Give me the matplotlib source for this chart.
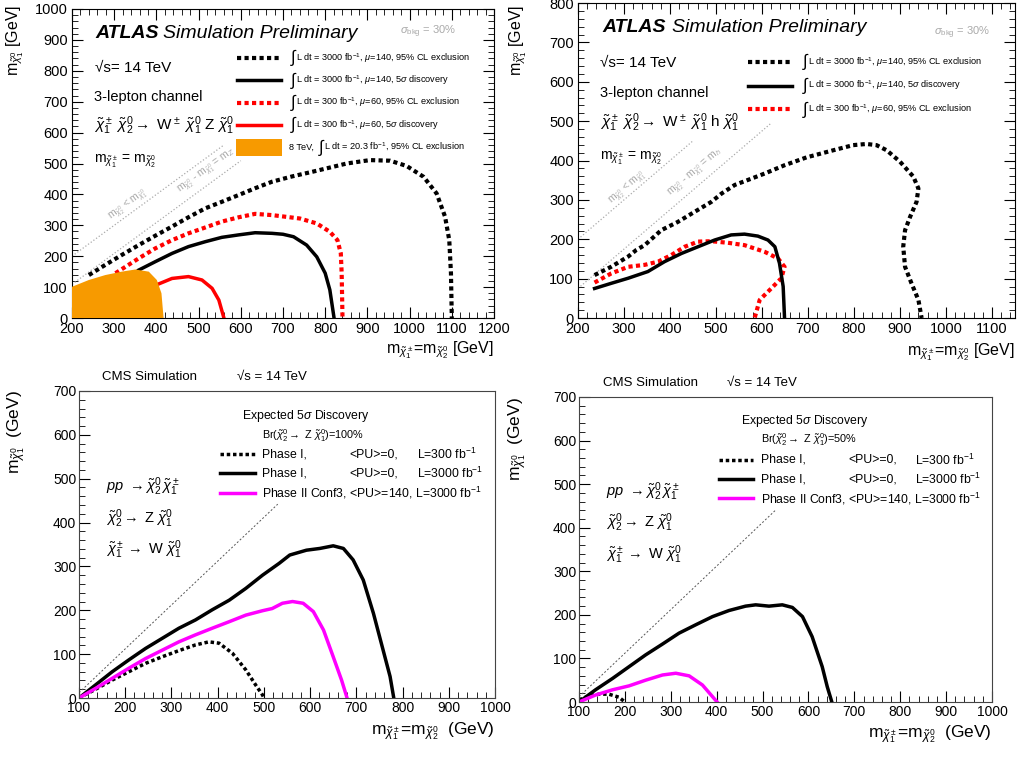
import numpy as np
import matplotlib
matplotlib.use('Agg')
import matplotlib.pyplot as plt
from matplotlib.lines import Line2D
from matplotlib.patches import Rectangle
from matplotlib.ticker import MultipleLocator

plt.rcParams['font.family'] = ['Liberation Sans', 'DejaVu Sans']
plt.rcParams['mathtext.fontset'] = 'custom'
plt.rcParams['mathtext.rm'] = 'Liberation Sans'
plt.rcParams['mathtext.it'] = 'Liberation Sans:italic'
plt.rcParams['mathtext.bf'] = 'Liberation Sans:bold'

# ---- ATLAS WZ (top left) ----
wz_excl3000_x = [240, 279, 318, 358, 397, 437, 476, 516, 555, 595, 634, 674, 721, 772, 851, 906, 954, 993,
                 1033, 1064, 1084, 1094, 1098, 1100]
wz_excl3000_y = [139, 172, 204, 236, 266, 296, 326, 355, 376, 398, 420, 441, 458, 474, 500, 511, 509, 492,
                 457, 403, 328, 252, 145, 0]
wz_disc3000_x = [358, 397, 437, 476, 516, 555, 595, 634, 674, 700, 725, 756, 780, 800, 811, 821]
wz_disc3000_y = [155, 182, 209, 231, 247, 261, 269, 276, 274, 271, 263, 236, 198, 145, 91, 0]
wz_excl300_x = [303, 358, 397, 437, 476, 516, 555, 595, 634, 674, 710, 740, 780, 811, 829, 837, 839, 841]
wz_excl300_y = [145, 193, 225, 252, 274, 293, 312, 326, 337, 333, 327, 322, 306, 279, 252, 209, 145, 0]
wz_disc300_x = [405, 437, 476, 508, 532, 548, 560]
wz_disc300_y = [110, 128, 134, 123, 96, 58, 0]
wz_8tev_x = [200, 200, 240, 279, 318, 350, 382, 401, 412, 417]
wz_8tev_y = [0, 101, 123, 139, 150, 157, 150, 123, 80, 0]

# ---- ATLAS Wh (top right) ----
wh_excl3000_x = [236, 272, 309, 327, 345, 381, 417, 454, 490, 512, 541, 577, 606, 649, 697, 755, 798, 827,
                 849, 871, 900, 929, 940, 936, 922, 911, 907, 911, 925, 940, 947]
wh_excl3000_y = [109, 130, 156, 173, 185, 223, 244, 270, 295, 316, 338, 354, 367, 388, 408, 426, 439, 442,
                 439, 426, 397, 359, 329, 295, 257, 223, 181, 130, 88, 46, 0]
wh_disc3000_x = [236, 272, 309, 352, 388, 425, 461, 497, 533, 562, 591, 613, 628, 638, 646, 649]
wh_disc3000_y = [75, 88, 101, 118, 143, 164, 181, 198, 211, 213, 208, 198, 181, 139, 80, 0]
wh_excl300_x = [236, 272, 309, 345, 374, 403, 432, 461, 490, 526, 562, 606, 635, 649, 642, 620, 595, 584]
wh_excl300_y = [90, 113, 130, 135, 143, 160, 181, 194, 195, 191, 185, 168, 151, 130, 101, 75, 46, 0]

# ---- CMS Br=100% (bottom left) ----
c100_p1_300_x = [100, 136, 172, 208, 244, 280, 316, 352, 381, 403, 432, 461, 482, 497, 500]
c100_p1_300_y = [0, 20, 41, 60, 79, 94, 108, 121, 128, 125, 102, 64, 30, 7, 0]
c100_p1_3000_x = [100, 136, 172, 208, 244, 280, 316, 352, 388, 425, 461, 497, 533, 556, 592, 621, 650, 672,
                  693, 715, 737, 758, 773, 781]
c100_p1_3000_y = [0, 30, 60, 87, 113, 136, 159, 178, 201, 223, 250, 280, 307, 326, 337, 341, 347, 341,
                  315, 269, 193, 109, 49, 0]
c100_p2_3000_x = [100, 136, 172, 208, 244, 280, 316, 352, 388, 425, 461, 497, 518, 540, 562, 585, 607, 629,
                  650, 668, 680]
c100_p2_3000_y = [0, 22, 45, 68, 90, 109, 128, 144, 159, 174, 189, 199, 204, 216, 220, 216, 197, 155,
                  94, 41, 0]

# ---- CMS Br=50% (bottom right) ----
c50_p1_300_x = [100, 122, 144, 165, 187, 200]
c50_p1_300_y = [5, 14, 18, 18, 11, 0]
c50_p1_3000_x = [100, 136, 173, 209, 245, 282, 318, 354, 391, 427, 463, 485, 514, 543, 565, 587, 608, 630,
                 641, 651]
c50_p1_3000_y = [0, 28, 54, 81, 108, 133, 158, 177, 196, 210, 220, 223, 220, 223, 217, 196, 150, 81,
                 35, 0]
c50_p2_3000_x = [100, 136, 173, 209, 245, 282, 311, 340, 369, 401]
c50_p2_3000_y = [0, 16, 28, 37, 50, 62, 66, 60, 39, 0]

W, H = 1017, 761
fig = plt.figure(figsize=(W / 100, H / 100), dpi=100)


def box(l, t, r, b):
    return [l / W, 1 - b / H, (r - l) / W, (b - t) / H]


def ft(x, y, s, **kw):
    fig.text(x / W, 1 - y / H, s, **kw)


def fline(x0, x1, y, **kw):
    fig.add_artist(Line2D([x0 / W, x1 / W], [1 - y / H, 1 - y / H], **kw))


def atlas_axes(ax, xmax, ymax):
    ax.set_xlim(200, xmax)
    ax.set_ylim(0, ymax)
    ax.xaxis.set_major_locator(MultipleLocator(100))
    ax.xaxis.set_minor_locator(MultipleLocator(20))
    ax.yaxis.set_major_locator(MultipleLocator(100))
    ax.yaxis.set_minor_locator(MultipleLocator(20))
    ax.tick_params(which='both', direction='in', top=True, right=True, labelsize=10.5, pad=3)
    ax.tick_params(which='major', length=8)
    ax.tick_params(which='minor', length=4)


def cms_axes(ax):
    ax.set_xlim(100, 1000)
    ax.set_ylim(0, 700)
    ax.xaxis.set_major_locator(MultipleLocator(100))
    ax.xaxis.set_minor_locator(MultipleLocator(20))
    ax.yaxis.set_major_locator(MultipleLocator(100))
    ax.yaxis.set_minor_locator(MultipleLocator(20))
    ax.tick_params(which='both', direction='in', labelsize=10, pad=2)
    ax.tick_params(which='major', length=8)
    ax.tick_params(which='minor', length=4)
    for s in ax.spines.values():
        s.set_linewidth(0.8)
        s.set_color('#444444')


DOT = (0, (1, 0.8))


def atlas_legend(x_line, x_int, rows, y0, dy):
    for i, (c, ls, lab) in enumerate(rows):
        y = y0 + i * dy
        fline(x_line, x_line + 44, y, color=c, ls=ls, lw=3 if ls != '-' else 2.5)
        ft(x_int, y, r'$\int$', fontsize=12, va='center')
        ft(x_int + 6, y, lab, fontsize=6.6, va='center')


# ================= top left =================
ax1 = fig.add_axes(box(72, 9, 494, 318))
atlas_axes(ax1, 1200, 1000)
dx = np.array([200, 560])
ax1.plot(dx, dx, ls=':', color='#aaaaaa', lw=0.9)
dx2 = np.array([200, 600])
ax1.plot(dx2, dx2 - 91, ls=':', color='#aaaaaa', lw=0.9)
ax1.text(292, 318, r'm$_{\tilde{\chi}_2^0}$ < m$_{\tilde{\chi}_1^0}$', rotation=45,
         transform_rotates_text=True, rotation_mode='anchor', color='#aaaaaa', fontsize=7.5)
ax1.text(455, 408, r'm$_{\tilde{\chi}_2^0}$ - m$_{\tilde{\chi}_1^0}$ = m$_Z$', rotation=45,
         transform_rotates_text=True, rotation_mode='anchor', color='#aaaaaa', fontsize=7.5)
ax1.plot(wz_excl3000_x, wz_excl3000_y, color='black', lw=3, ls=DOT)
ax1.plot(wz_excl300_x, wz_excl300_y, color='#ff0000', lw=3, ls=DOT)
ax1.plot(wz_disc3000_x, wz_disc3000_y, color='black', lw=2.5)
ax1.plot(wz_disc300_x, wz_disc300_y, color='#ff0000', lw=2.5)
ax1.fill(wz_8tev_x, wz_8tev_y, color='#f79a00', lw=0, zorder=3)

ft(95, 33, 'ATLAS', fontsize=14, weight='bold', style='italic', va='center')
ft(163, 33, 'Simulation Preliminary', fontsize=14, style='italic', va='center')
ft(400, 32, r'$\sigma_{\mathrm{bkg}}$ = 30%', fontsize=8, color='#aaaaaa', va='center')
ft(95, 68, '\u221as= 14 TeV', fontsize=11, va='center')
ft(94, 97, '3-lepton channel', fontsize=10.5, va='center')
ft(94, 126, r'$\tilde{\chi}_1^\pm\ \tilde{\chi}_2^0 \rightarrow$ W$^\pm$ $\tilde{\chi}_1^0$ Z $\tilde{\chi}_1^0$',
   fontsize=11, va='center')
ft(94, 161, r'm$_{\tilde{\chi}_1^\pm}$ = m$_{\tilde{\chi}_2^0}$', fontsize=10, va='center')

leg1 = [
    ('black', DOT, r'L dt = 3000 fb$^{-1}$, $\mu$=140, 95% CL exclusion'),
    ('black', '-', r'L dt = 3000 fb$^{-1}$, $\mu$=140, 5$\sigma$ discovery'),
    ('#ff0000', DOT, r'L dt = 300 fb$^{-1}$, $\mu$=60, 95% CL exclusion'),
    ('#ff0000', '-', r'L dt = 300 fb$^{-1}$, $\mu$=60, 5$\sigma$ discovery'),
]
atlas_legend(237, 290, leg1, 58, 22.3)
fig.add_artist(Rectangle((236 / W, 1 - 156 / H), 46 / W, 17 / H, color='#f79a00', lw=0))
ft(289, 147, '8 TeV,', fontsize=6.6, va='center')
ft(318, 147, r'$\int$', fontsize=12, va='center')
ft(324, 147, r'L dt = 20.3 fb$^{-1}$, 95% CL exclusion', fontsize=6.6, va='center')

ft(15, 5, r'm$_{\tilde{\chi}_1^0}$ [GeV]', fontsize=11.5, rotation=90, ha='center', va='top')
ft(494, 350, r'm$_{\tilde{\chi}_1^\pm}$=m$_{\tilde{\chi}_2^0}$ [GeV]', fontsize=11.5, ha='right', va='center')

# ================= top right =================
ax2 = fig.add_axes(box(578, 3, 1015, 318))
atlas_axes(ax2, 1150, 800)
dx = np.array([200, 450])
ax2.plot(dx, dx, ls=':', color='#aaaaaa', lw=0.9)
dx2 = np.array([200, 620])
ax2.plot(dx2, dx2 - 125, ls=':', color='#aaaaaa', lw=0.9)
ax2.text(272, 290, r'm$_{\tilde{\chi}_2^0}$ < m$_{\tilde{\chi}_1^0}$', rotation=45,
         transform_rotates_text=True, rotation_mode='anchor', color='#aaaaaa', fontsize=7.5)
ax2.text(400, 310, r'm$_{\tilde{\chi}_2^0}$ - m$_{\tilde{\chi}_1^0}$ = m$_h$', rotation=45,
         transform_rotates_text=True, rotation_mode='anchor', color='#aaaaaa', fontsize=7.5)
ax2.plot(wh_excl3000_x, wh_excl3000_y, color='black', lw=3, ls=DOT)
ax2.plot(wh_excl300_x, wh_excl300_y, color='#ff0000', lw=3, ls=DOT)
ax2.plot(wh_disc3000_x, wh_disc3000_y, color='black', lw=2.5)

ft(602, 28, 'ATLAS', fontsize=14, weight='bold', style='italic', va='center')
ft(672, 28, 'Simulation Preliminary', fontsize=14, style='italic', va='center')
ft(934, 33, r'$\sigma_{\mathrm{bkg}}$ = 30%', fontsize=8, color='#aaaaaa', va='center')
ft(600, 63, '\u221as= 14 TeV', fontsize=11, va='center')
ft(600, 93, '3-lepton channel', fontsize=10.5, va='center')
ft(600, 123, r'$\tilde{\chi}_1^\pm\ \tilde{\chi}_2^0 \rightarrow$ W$^\pm$ $\tilde{\chi}_1^0$ h $\tilde{\chi}_1^0$',
   fontsize=11, va='center')
ft(600, 158, r'm$_{\tilde{\chi}_1^\pm}$ = m$_{\tilde{\chi}_2^0}$', fontsize=10, va='center')
atlas_legend(748, 802, leg1[:3], 62, 23.5)

ft(518, 5, r'm$_{\tilde{\chi}_1^0}$ [GeV]', fontsize=11.5, rotation=90, ha='center', va='top')
ft(1015, 352, r'm$_{\tilde{\chi}_1^\pm}$=m$_{\tilde{\chi}_2^0}$ [GeV]', fontsize=11.5, ha='right', va='center')

# ================= bottom left =================
ax3 = fig.add_axes(box(79, 391, 495, 698))
cms_axes(ax3)
dd = np.array([100, 530])
ax3.plot(dd, dd - 88, ls=(0, (2, 2)), color='#555555', lw=0.7)
ax3.plot(c100_p1_300_x, c100_p1_300_y, color='black', lw=2.5, ls=DOT)
ax3.plot(c100_p1_3000_x, c100_p1_3000_y, color='black', lw=2.5)
ax3.plot(c100_p2_3000_x, c100_p2_3000_y, color='#ff00ff', lw=2.5)

cms_leg = [
    ('black', DOT, ['Phase I,', '<PU>=0,', r'L=300 fb$^{-1}$']),
    ('black', '-', ['Phase I,', '<PU>=0,', r'L=3000 fb$^{-1}$']),
    ('#ff00ff', '-', [r'Phase II Conf3, <PU>=140, L=3000 fb$^{-1}$']),
]

ft(102, 377, 'CMS Simulation', fontsize=9.5, va='center')
ft(237, 377, '\u221as = 14 TeV', fontsize=9.5, va='center')
ft(242, 416, r'Expected 5$\sigma$ Discovery', fontsize=8.8, va='center')
ft(262, 436, r'Br($\tilde{\chi}_2^0 \rightarrow$ Z $\tilde{\chi}_1^0$)=100%', fontsize=7.8, va='center')
for i, (c, ls, labs) in enumerate(cms_leg):
    y = 454 + i * 19.3
    fline(220, 255, y, color=c, ls=ls, lw=2.5)
    ft(262, y, labs[0], fontsize=8.8, va='center')
    if len(labs) > 1:
        ft(349, y, labs[1], fontsize=8.8, va='center')
        ft(417, y, labs[2], fontsize=8.8, va='center')
ft(106, 487, r'$pp$ $\rightarrow \tilde{\chi}_2^0\, \tilde{\chi}_1^\pm$', fontsize=10.5, va='center')
ft(106, 519, r'$\tilde{\chi}_2^0 \rightarrow$ Z $\tilde{\chi}_1^0$', fontsize=10.5, va='center')
ft(106, 550, r'$\tilde{\chi}_1^\pm \rightarrow$ W $\tilde{\chi}_1^0$', fontsize=10.5, va='center')
ft(16, 390, r'm$_{\tilde{\chi}_1^0}$  (GeV)', fontsize=12.5, rotation=90, ha='center', va='top')
ft(495, 731, r'm$_{\tilde{\chi}_1^\pm}$=m$_{\tilde{\chi}_2^0}$  (GeV)', fontsize=12.5, ha='right', va='center')

# ================= bottom right =================
ax4 = fig.add_axes(box(579, 397, 992, 702))
cms_axes(ax4)
ax4.plot(dd, dd - 88, ls=(0, (2, 2)), color='#555555', lw=0.7)
ax4.plot(c50_p1_300_x, c50_p1_300_y, color='black', lw=2.5, ls=DOT)
ax4.plot(c50_p1_3000_x, c50_p1_3000_y, color='black', lw=2.5)
ax4.plot(c50_p2_3000_x, c50_p2_3000_y, color='#ff00ff', lw=2.5)

ft(603, 383, 'CMS Simulation', fontsize=9.5, va='center')
ft(727, 383, '\u221as = 14 TeV', fontsize=9.5, va='center')
ft(741, 421, r'Expected 5$\sigma$ Discovery', fontsize=8.8, va='center')
ft(761, 440, r'Br($\tilde{\chi}_2^0 \rightarrow$ Z $\tilde{\chi}_1^0$)=50%', fontsize=7.8, va='center')
for i, (c, ls, labs) in enumerate(cms_leg):
    y = 460 + i * 19.2
    fline(719, 753, y, color=c, ls=ls, lw=2.5)
    ft(761, y, labs[0], fontsize=8.8, va='center')
    if len(labs) > 1:
        ft(848, y, labs[1], fontsize=8.8, va='center')
        ft(915, y, labs[2], fontsize=8.8, va='center')
ft(606, 492, r'$pp$ $\rightarrow \tilde{\chi}_2^0\, \tilde{\chi}_1^\pm$', fontsize=10.5, va='center')
ft(606, 523, r'$\tilde{\chi}_2^0 \rightarrow$ Z $\tilde{\chi}_1^0$', fontsize=10.5, va='center')
ft(606, 555, r'$\tilde{\chi}_1^\pm \rightarrow$ W $\tilde{\chi}_1^0$', fontsize=10.5, va='center')
ft(517, 397, r'm$_{\tilde{\chi}_1^0}$  (GeV)', fontsize=12.5, rotation=90, ha='center', va='top')
ft(992, 734, r'm$_{\tilde{\chi}_1^\pm}$=m$_{\tilde{\chi}_2^0}$  (GeV)', fontsize=12.5, ha='right', va='center')

fig.savefig('out.png', dpi=100)
